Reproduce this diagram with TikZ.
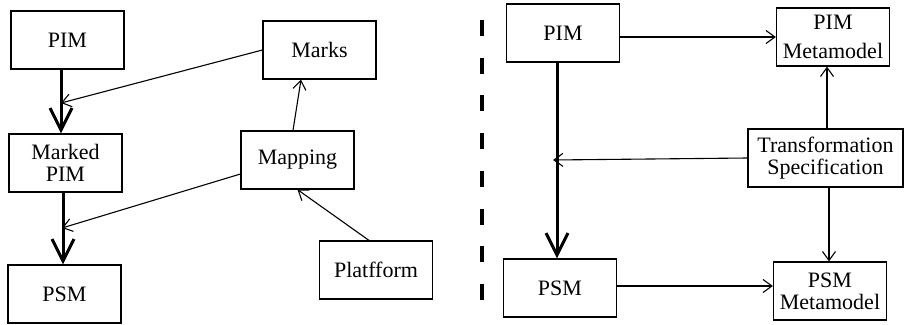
\documentclass[tikz,border=0pt]{standalone}
\usepackage{fontspec}
\setmainfont{Liberation Serif}
\usetikzlibrary{arrows.meta}

\begin{document}
\begin{tikzpicture}[
    x=1pt, y=-1pt,
    box/.style={rectangle, draw=black, line width=1.2pt, minimum width=113pt, minimum height=58pt, inner sep=0pt, align=center, font=\fontsize{22}{22}\selectfont},
    link/.style={line width=1.1pt, -{Straight Barb[length=9pt, width=13pt]}},
    flow/.style={line width=3pt, -{Straight Barb[length=22pt, width=22pt]}}
]
    \useasboundingbox (0,0) rectangle (904,324);

    % left: marking
    \node[box] (pim) at (67.5, 40) {PIM};
    \node[box] (marks) at (319.5, 50) {Marks};
    \node[box] (mpim) at (65.5, 163) {Marked\\PIM};
    \node[box] (mapping) at (297.5, 160) {Mapping};
    \node[box] (psm) at (64.5, 294) {PSM};
    \node[box] (platf) at (376, 270) {Platfform};

    \coordinate (hit1) at (61, 103);
    \coordinate (hit2) at (62, 228);

    \draw[flow] ([xshift=-6.5pt]pim.south) -- ([xshift=-4.5pt]mpim.north);
    \draw[flow] ([xshift=-2.5pt]mpim.south) -- ([xshift=-1.5pt]psm.north);
    \draw[link] (marks.west) -- (hit1);
    \draw[link] ([yshift=-14pt]mapping.west) -- (hit2);
    \draw[link] ([xshift=-4.5pt]mapping.north) -- ([xshift=-18.5pt]marks.south);
    \draw[link] ([xshift=-7pt]platf.north) -- (mapping.south);

    % separator
    \draw[line width=4pt, dash pattern=on 16pt off 21.7pt] (482, 20) -- (482, 300);

    % right: transformation
    \node[box] (pim2) at (563, 33) {PIM};
    \node[box] (pimmm) at (833, 37) {PIM\\[7pt]Metamodel};
    \node[box, minimum width=155pt] (trans) at (825.5, 158) {Transformation\\Specification};
    \node[box] (psm2) at (560, 288) {PSM};
    \node[box] (psmmm) at (830, 291) {PSM\\Metamodel};

    \coordinate (hit3) at (553, 160);

    \draw[flow] ([xshift=-6pt]pim2.south) -- ([xshift=-3pt]psm2.north);
    \draw[link] (pim2.east |- pimmm.west) -- (pimmm.west);
    \draw[link] (trans.west) -- (hit3);
    \draw[link] ([xshift=1.5pt]trans.north) -- ([xshift=1.5pt]trans.north |- pimmm.south);
    \draw[link] ([xshift=3.5pt]trans.south) -- ([xshift=3.5pt]trans.south |- psmmm.north);
    \draw[link] (psm2.east |- psmmm.west) ++(0,-5) -- ([yshift=5pt]psmmm.west);
\end{tikzpicture}
\end{document}
